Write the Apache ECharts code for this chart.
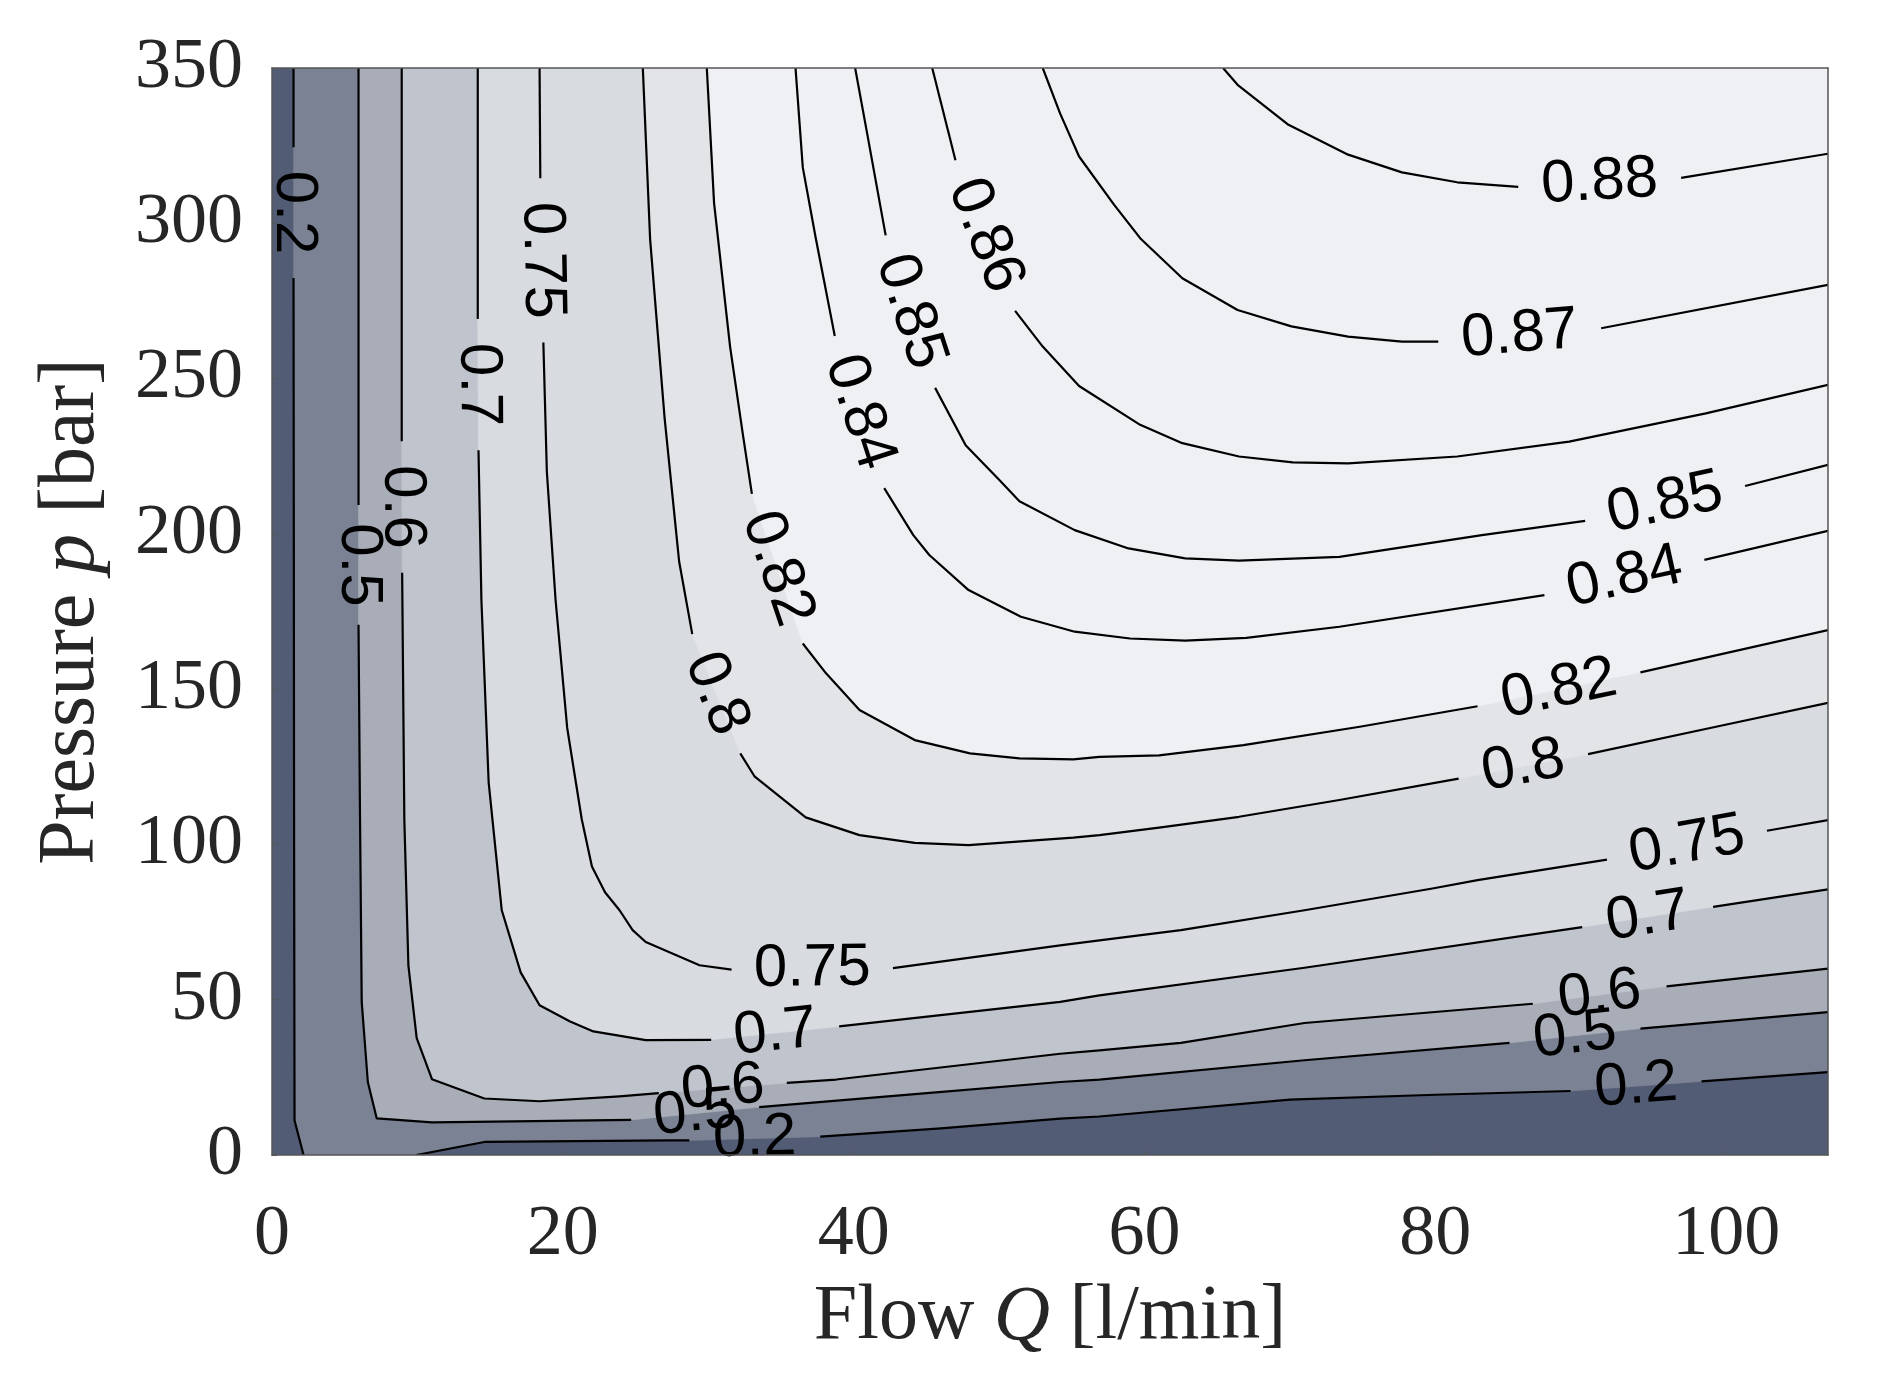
<!DOCTYPE html>
<html>
<head>
<meta charset="utf-8">
<script src="https://cdn.jsdelivr.net/npm/echarts@6/dist/echarts.min.js"></script>
<style>
html,body{margin:0;padding:0;background:#fff;}
#chart{width:1880px;height:1400px;}
</style>
</head>
<body>
<div id="chart"></div>
<script>
// ---- axis extents and tick labels ----
const Q_MAX = 107;
const P_MAX = 350;
const xTicks = [0, 20, 40, 60, 80, 100];
const yTicks = [0, 50, 100, 150, 200, 250, 300, 350];

// ---- contour lines: [Q (l/min), p (bar)], split into segments at label gaps ----
const c020a = [
  [[1.48,350],[1.48,324.5]],
  [[1.48,282.4],[1.5,200],[1.52,100],[1.55,11.1],[2.17,0]]
];
const c020b = [
  [[9.93,0],[14.6,4.2],[27.3,4.7],[28.7,4.7]],
  [[37.7,5.9],[46,8.6],[54.2,11.7],[56.9,12.4],[70.0,17.8],[80,19.4],[89.3,20.6]],
  [[98.3,23.7],[107,26.7]]
];
const c050 = [
  [[5.95,350],[5.95,209.3]],
  [[5.95,170.7],[6.05,110],[6.17,49.3],[6.59,23.5],[7.2,11.8],[11.0,10.5],[18,10.9],[24.7,11.3]],
  [[33.5,15.4],[44,19.5],[54.2,23.5],[56.9,24.3],[71.0,30.5],[85.1,36.1]],
  [[94.1,40.7],[107,46.0]]
];
const c060 = [
  [[8.92,350],[8.92,229.8]],
  [[8.95,187.5],[9.1,108],[9.38,61],[9.95,37.6],[11.0,24.4],[14.6,18.2],[18.4,17.3],[23.9,18.9],[26.6,19.9]],
  [[35.4,23.2],[38.8,24.3],[54.2,32.6],[56.9,33.7],[62.5,36.1],[71.0,42.5],[86.7,48.7]],
  [[95.9,54.3],[107,60.0]]
];
const c070 = [
  [[14.15,350],[14.15,269.2]],
  [[14.2,226.9],[14.4,178.7],[14.9,119.9],[15.8,78.8],[17.1,58.8],[18.4,48.2],[20.5,43.0],[22.1,39.8],[25.7,37.0],[30.2,37.1]],
  [[39.0,41.4],[54.2,49.3],[56.9,51.4],[71.0,60.3],[90.1,73.4]],
  [[99.1,79.9],[107,85.5]]
];
const c075 = [
  [[18.4,350],[18.45,314.5]],
  [[18.66,261.6],[18.9,220],[19.5,178.7],[20.3,137.5],[21.3,108.1],[22.0,92.9],[22.9,84.6],[23.9,78.8],[24.8,72.4],[25.7,68.6],[29.4,61.1],[31.6,59.7]],
  [[42.7,60.2],[54.2,67.5],[56.9,69.1],[62.5,72.4],[71.0,78.8],[79.8,85.8],[82.9,88.5],[91.8,95.1]],
  [[102.8,104.4],[107,107.8]]
];
const c080 = [
  [[25.5,350],[26.0,295],[27.0,237.2],[28.0,191.0],[28.9,167.7]],
  [[32.2,129.3],[33.2,121.8],[36.7,108.7],[40.4,103.0],[44.2,100.5],[47.9,99.8],[55.1,102.2],[56.9,103.0],[61.0,105.4],[66.5,108.9],[73.4,114.3],[81.6,121.2]],
  [[90.5,129.1],[99.3,137.9],[107,145.6]]
];
const c082 = [
  [[29.9,350],[30.4,306.5],[31.5,260.3],[32.4,231.4],[33.0,212.9]],
  [[36.5,164.7],[38.1,155.1],[40.4,143.3],[44.2,133.6],[48.0,129.3],[51.4,127.7],[55.1,127.4],[56.9,128.2],[61.0,128.7],[66.8,132.0],[74.8,137.9],[82.9,144.5]],
  [[94.1,155.4],[107,169.0]]
];
const c084 = [
  [[36.0,350],[36.5,318],[37.4,295],[38.7,263.7]],
  [[42.1,214.7],[44.1,199.6],[45.2,193.2],[47.9,181.9],[51.5,173.3],[55.2,168.5],[59.0,166.3],[62.8,165.6],[67,166.5],[73.4,170.1],[87.5,180.3]],
  [[98.5,191.6],[107,201.0]]
];
const c085 = [
  [[40.1,350],[40.9,329.6],[42.2,296.1]],
  [[45.6,247],[47.7,228.5],[50.0,217.4],[51.4,210.5],[55.2,201.2],[58.9,195.3],[62.8,192.1],[66.5,191.4],[73.4,192.6],[83.2,199.6],[90.3,204.2]],
  [[101.3,215.4],[107,222.2]]
];
const c086 = [
  [[45.4,350],[47.0,320.3]],
  [[51.1,271.8],[53.0,260.3],[55.5,247.6],[59.7,235.1],[62.6,229.2],[66.5,224.9],[70.2,223.0],[74.0,222.7],[81.5,224.9],[89.2,229.7],[98.6,238.8],[107,248.0]]
];
const c087 = [
  [[53.0,350],[54.2,335.3],[55.5,321.5],[57.9,306],[59.7,295.2],[62.6,282.3],[66.4,272.1],[70.1,266.8],[74.0,263.5],[77.7,261.9],[80.2,261.9]],
  [[91.4,266.2],[107,280.2]]
];
const c088 = [
  [[65.4,350],[66.4,344.6],[69.9,331.7],[74.0,322.1],[77.7,316.4],[81.5,313.2],[85.7,311.7]],
  [[96.9,314.6],[107,322.4]]
];

// level of each contour line
const contourLines = [
  [0.2, c020a], [0.2, c020b], [0.5, c050], [0.6, c060], [0.7, c070], [0.75, c075],
  [0.8, c080], [0.82, c082], [0.84, c084], [0.85, c085], [0.86, c086], [0.87, c087], [0.88, c088]
];

// filled bands (region above each fill level)
const fillLevels = [0.2, 0.5, 0.6, 0.7, 0.8, 0.82];
const fillParts = [[c020a, c020b], [c050], [c060], [c070], [c080], [c082]];
const bandColors = ['#7a8294', '#a8adb7', '#c0c4cc', '#d8dbe0', '#e3e4e8', '#eff0f4'];
const baseColor = '#525c75';

const serif = 'Liberation Serif';
const sans = 'Liberation Sans';
const textColor = '#262626';
const frameColor = '#555555';

const chart = echarts.init(document.getElementById('chart'), null, {renderer: 'canvas'});

function fillRender(params, api) {
  const parts = fillParts[params.dataIndex];
  const pts = [];
  parts.forEach(part => part.forEach(seg => seg.forEach(pt => pts.push(api.coord(pt)))));
  pts.push(api.coord([Q_MAX, P_MAX]));
  const c = bandColors[params.dataIndex];
  return {type: 'polygon', shape: {points: pts}, style: {fill: c, stroke: c, lineWidth: 0.6}};
}

function lineRender(params, api) {
  const segs = contourLines[params.dataIndex][1];
  return {
    type: 'group',
    children: segs.map(seg => ({
      type: 'polyline',
      shape: {points: seg.map(pt => api.coord(pt))},
      style: {stroke: '#000', lineWidth: 2.2, fill: 'none', lineJoin: 'round'}
    }))
  };
}

function labelRender(params, api) {
  const lv = contourLines[params.dataIndex][0];
  const segs = contourLines[params.dataIndex][1];
  const kids = [];
  for (let i = 0; i < segs.length - 1; i++) {
    const a = api.coord(segs[i][segs[i].length - 1]);
    const b = api.coord(segs[i + 1][0]);
    let dx = b[0] - a[0], dy = b[1] - a[1];
    if (dx < 0) { dx = -dx; dy = -dy; }
    const ang = Math.atan2(dy, dx);
    kids.push({
      type: 'text',
      x: (a[0] + b[0]) / 2,
      y: (a[1] + b[1]) / 2,
      rotation: -ang,
      style: {text: String(lv), fontFamily: sans, fontSize: 60, fill: '#000', align: 'center', verticalAlign: 'middle'}
    });
  }
  return {type: 'group', children: kids};
}

const axisLineStyle = {show: true, onZero: false, lineStyle: {color: frameColor, width: 1.5}};

const option = {
  animation: false,
  backgroundColor: '#ffffff',
  grid: {left: 272, right: 52, top: 68, bottom: 245, show: true, backgroundColor: baseColor, borderWidth: 0},
  xAxis: [{
    type: 'value', min: 0, max: Q_MAX, interval: 20, position: 'bottom', z: 10,
    axisLine: axisLineStyle,
    axisTick: {show: true, inside: true, length: 5, lineStyle: {color: frameColor, width: 1}},
    splitLine: {show: false},
    axisLabel: {
      showMaxLabel: false, margin: 44, fontFamily: serif, fontSize: 72, color: textColor,
      formatter: v => xTicks.indexOf(v) >= 0 ? String(v) : ''
    },
    name: 'Flow {i|Q} [l/min]', nameLocation: 'middle', nameGap: 124,
    nameTextStyle: {fontFamily: serif, fontSize: 78, color: textColor,
      rich: {i: {fontFamily: serif, fontStyle: 'italic', fontSize: 78, color: textColor}}}
  }, {
    type: 'value', min: 0, max: Q_MAX, position: 'top', z: 10,
    axisLine: axisLineStyle, axisTick: {show: false}, axisLabel: {show: false}, splitLine: {show: false}
  }],
  yAxis: [{
    type: 'value', min: 0, max: P_MAX, interval: 50, position: 'left', z: 10,
    axisLine: axisLineStyle,
    axisTick: {show: true, inside: true, length: 5, lineStyle: {color: frameColor, width: 1}},
    splitLine: {show: false},
    axisLabel: {
      margin: 29, fontFamily: serif, fontSize: 72, color: textColor,
      formatter: v => yTicks.indexOf(v) >= 0 ? String(v) : ''
    },
    name: 'Pressure {i|p} [bar]', nameLocation: 'middle', nameGap: 160,
    nameTextStyle: {fontFamily: serif, fontSize: 80, color: textColor,
      rich: {i: {fontFamily: serif, fontStyle: 'italic', fontSize: 80, color: textColor}}}
  }, {
    type: 'value', min: 0, max: P_MAX, position: 'right', z: 10,
    axisLine: axisLineStyle, axisTick: {show: false}, axisLabel: {show: false}, splitLine: {show: false}
  }],
  series: [
    {
      type: 'custom', name: 'fills', coordinateSystem: 'cartesian2d', xAxisIndex: 0, yAxisIndex: 0,
      clip: true, silent: true, z: 1,
      data: fillLevels.map((lv, i) => [i, lv]),
      renderItem: fillRender
    },
    {
      type: 'custom', name: 'lines', coordinateSystem: 'cartesian2d', xAxisIndex: 0, yAxisIndex: 0,
      clip: true, silent: true, z: 3,
      data: contourLines.map((c, i) => [i, c[0]]),
      renderItem: lineRender
    },
    {
      type: 'custom', name: 'labels', coordinateSystem: 'cartesian2d', xAxisIndex: 0, yAxisIndex: 0,
      clip: false, silent: true, z: 4,
      data: contourLines.map((c, i) => [i, c[0]]),
      renderItem: labelRender
    }
  ]
};
chart.setOption(option);
</script>
</body>
</html>
